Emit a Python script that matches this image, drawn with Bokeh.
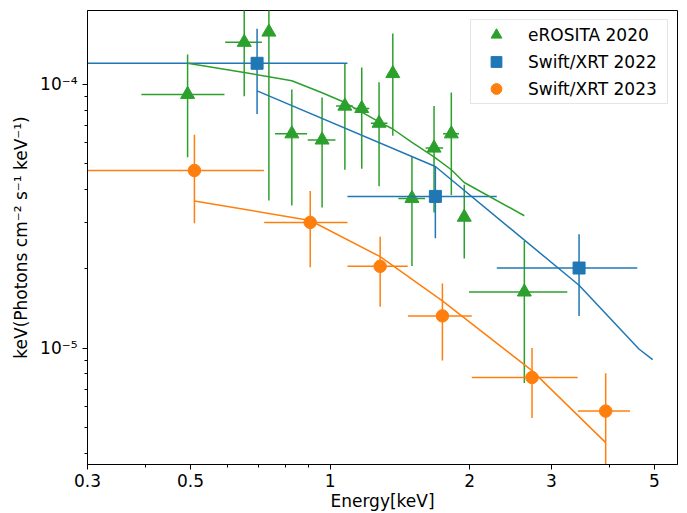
from bokeh.plotting import figure
from bokeh.models import (Range1d, FixedTicker, CustomJSTickFormatter, Legend,
                          LegendItem, ColumnDataSource)
from bokeh.embed import file_html
from bokeh.resources import INLINE

# ---------------- data ----------------
# eROSITA 2020
ero_e = [0.493, 0.653, 0.738, 0.827, 0.961, 1.076, 1.170, 1.275, 1.365, 1.501, 1.675, 1.825, 1.946, 2.622]
ero_e_lo = [0.392, 0.594, 0.723, 0.761, 0.895, 1.030, 1.123, 1.224, 1.338, 1.403, 1.606, 1.752, 1.908, 1.993]
ero_e_hi = [0.592, 0.713, 0.753, 0.892, 1.027, 1.119, 1.215, 1.329, 1.392, 1.602, 1.752, 1.896, 1.985, 3.245]
ero_f = [9.17e-5, 1.445e-4, 1.58e-4, 6.5e-5, 6.16e-5, 8.28e-5, 8.11e-5, 7.13e-5, 1.10e-4, 3.70e-5, 5.74e-5, 6.5e-5, 3.14e-5, 1.635e-5]
ero_f_lo = [5.30e-5, 9.03e-5, 3.63e-5, 3.48e-5, 3.42e-5, 4.75e-5, 4.79e-5, 4.11e-5, 6.39e-5, 2.05e-5, 3.27e-5, 3.81e-5, 2.19e-5, 7.38e-6]
ero_f_hi = [1.30e-4, 2.5e-4, 3.0e-4, 9.58e-5, 8.93e-5, 1.20e-4, 1.16e-4, 1.02e-4, 1.56e-4, 5.33e-5, 8.28e-5, 9.33e-5, 4.17e-5, 2.55e-5]
ero_model = [1.203e-4, 1.109e-4, 1.070e-4, 1.033e-4, 9.3e-5, 8.54e-5, 7.86e-5, 7.21e-5, 6.78e-5, 6.03e-5, 5.32e-5, 4.75e-5, 4.25e-5, 3.18e-5]

# Swift/XRT 2022
x22_e = [0.696, 1.686, 3.440]
x22_e_lo = [0.25, 1.090, 2.287]
x22_e_hi = [1.090, 2.287, 4.592]
x22_f = [1.203e-4, 3.765e-5, 2.015e-5]
x22_f_lo = [7.72e-5, 2.615e-5, 1.327e-5]
x22_f_hi = [1.627e-4, 4.888e-5, 2.707e-5]
x22_model_e = [0.696, 1.686, 3.440, 4.63, 4.957]
x22_model = [9.46e-5, 4.888e-5, 1.733e-5, 9.94e-6, 9.06e-6]

# Swift/XRT 2023
x23_e = [0.510, 0.906, 1.282, 1.746, 2.724, 3.926]
x23_e_lo = [0.28, 0.721, 1.090, 1.472, 2.020, 3.420]
x23_e_hi = [0.720, 1.090, 1.470, 2.020, 3.417, 4.43]
x23_f = [4.72e-5, 3.00e-5, 2.045e-5, 1.327e-5, 7.75e-6, 5.78e-6]
x23_f_lo = [2.98e-5, 2.03e-5, 1.436e-5, 8.98e-6, 5.44e-6, 3.0e-6]
x23_f_hi = [6.45e-5, 3.95e-5, 2.646e-5, 1.759e-5, 1.003e-5, 8.05e-6]
x23_model = [3.62e-5, 3.05e-5, 2.225e-5, 1.512e-5, 8.23e-6, 4.39e-6]

labels = ["eROSITA 2020", "Swift/XRT 2022", "Swift/XRT 2023"]
x_ticks = [0.3, 0.5, 1, 2, 3, 5]
x_minor = [0.4, 0.6, 0.7, 0.8, 0.9, 4]
y_ticks = [1e-5, 1e-4]
y_minor = [4e-6, 5e-6, 6e-6, 7e-6, 8e-6, 9e-6, 2e-5, 3e-5, 4e-5, 5e-5, 6e-5, 7e-5, 8e-5, 9e-5]

GREEN, BLUE, ORANGE = "#2ca02c", "#1f77b4", "#ff7f0e"
FONT = "DejaVu Sans"

p = figure(width=687, height=513, x_axis_type="log", y_axis_type="log",
           x_range=Range1d(0.3, 5.607), y_range=Range1d(3.627e-6, 1.907e-4),
           output_backend="svg", toolbar_location=None,
           min_border_left=87, min_border_right=10, min_border_top=10, min_border_bottom=47)
p.xgrid.visible = False
p.ygrid.visible = False
p.outline_line_color = "black"
p.outline_line_width = 1
p.outline_line_alpha = 1
p.background_fill_color = "white"

def errbars(e, elo, ehi, f, flo, fhi, color, marker, size):
    src = ColumnDataSource(dict(e=e, elo=elo, ehi=ehi, f=f, flo=flo, fhi=fhi))
    p.segment(x0="elo", x1="ehi", y0="f", y1="f", source=src, line_color=color, line_width=1.5)
    p.segment(x0="e", x1="e", y0="flo", y1="fhi", source=src, line_color=color, line_width=1.5)
    return p.scatter(x="e", y="f", source=src, marker=marker, size=size,
                     fill_color=color, line_color=color, line_width=1)

r_ero = errbars(ero_e, ero_e_lo, ero_e_hi, ero_f, ero_f_lo, ero_f_hi, GREEN, "triangle", 14)
r_22 = errbars(x22_e, x22_e_lo, x22_e_hi, x22_f, x22_f_lo, x22_f_hi, BLUE, "square", 12)
r_23 = errbars(x23_e, x23_e_lo, x23_e_hi, x23_f, x23_f_lo, x23_f_hi, ORANGE, "circle", 12.5)

p.line(ero_e, ero_model, line_color=GREEN, line_width=1.5)
p.line(x22_model_e, x22_model, line_color=BLUE, line_width=1.5)
p.line(x23_e, x23_model, line_color=ORANGE, line_width=1.5)

legend = Legend(items=[LegendItem(label=labels[0], renderers=[r_ero]),
                       LegendItem(label=labels[1], renderers=[r_22]),
                       LegendItem(label=labels[2], renderers=[r_23])],
                location="top_right", margin=9, padding=1, spacing=0,
                glyph_width=48, glyph_height=27, label_standoff=8, label_width=138,
                label_text_font_size="17px", label_text_font=FONT,
                label_text_color="black", border_line_color="#cccccc",
                border_line_width=1, background_fill_alpha=0.8)
p.add_layout(legend)

# axes
p.xaxis.ticker = FixedTicker(ticks=x_ticks, minor_ticks=x_minor)
p.xaxis.formatter = CustomJSTickFormatter(code="return tick.toString();")
p.yaxis.ticker = FixedTicker(ticks=y_ticks, minor_ticks=y_minor)
p.yaxis.formatter = CustomJSTickFormatter(code="""
const sup = {'-':'\u207b','0':'\u2070','1':'\u00b9','2':'\u00b2','3':'\u00b3','4':'\u2074',
             '5':'\u2075','6':'\u2076','7':'\u2077','8':'\u2078','9':'\u2079'};
const e = Math.round(Math.log10(tick)).toString();
let s = '10';
for (const ch of e) { s += sup[ch]; }
return s;
""")
p.xaxis.axis_label = "Energy[keV]"
p.yaxis.axis_label = "keV(Photons cm\u207b\u00b2 s\u207b\u00b9 keV\u207b\u00b9)"

for ax in (p.xaxis[0], p.yaxis[0]):
    ax.axis_label_text_font = FONT
    ax.axis_label_text_font_size = "17px"
    ax.axis_label_text_font_style = "normal"
    ax.axis_label_text_color = "black"
    ax.major_label_text_font = FONT
    ax.major_label_text_font_size = "17px"
    ax.major_label_text_color = "black"
    ax.axis_line_color = "black"
    ax.axis_line_width = 1
    ax.major_tick_line_color = "black"
    ax.minor_tick_line_color = "black"
    ax.major_tick_line_width = 1
    ax.minor_tick_line_width = 1
    ax.major_tick_in = 0
    ax.major_tick_out = 5
    ax.minor_tick_in = 0
    ax.minor_tick_out = 3

p.xaxis.major_label_standoff = 4
p.xaxis.axis_label_standoff = 1
p.yaxis.major_label_standoff = 5
p.yaxis.axis_label_standoff = 6

open("out.html", "w").write(file_html(p, INLINE))
